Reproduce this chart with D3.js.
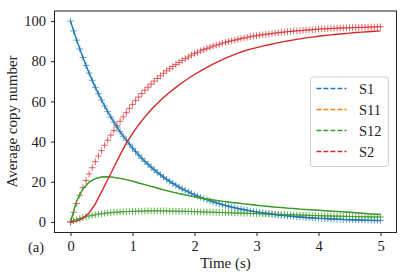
<!DOCTYPE html>
<html>
<head>
<meta charset="utf-8">
<script src="https://cdn.jsdelivr.net/npm/d3@7"></script>
<style>
  html, body { margin: 0; padding: 0; background: #fff; }
  svg { display: block; font-family: "Liberation Serif", "DejaVu Serif", serif; }
</style>
</head>
<body>
<div id="chart"></div>
<script>
// time grids (s)
const tSim = d3.range(0, 101).map(i => i * 0.05);
const tLine = d3.range(0, 51).map(i => i * 0.1);

// simulated averages, drawn as "+" markers (one value every 0.05 s)
const s1Sim = [100, 95.1, 90.5, 86.1, 81.9, 77.9, 74.1, 70.5, 67.0, 63.8, 60.7, 57.7, 54.9, 52.2, 49.7, 47.2, 44.9, 42.7, 40.7, 38.7,
  36.8, 35.0, 33.3, 31.7, 30.1, 28.7, 27.3, 25.9, 24.7, 23.5, 22.3, 21.2, 20.2, 19.2, 18.3, 17.4, 16.5, 15.7, 15.0, 14.2,
  13.5, 12.9, 12.2, 11.6, 11.1, 10.5, 10.0, 9.5, 9.1, 8.6, 8.2, 7.8, 7.4, 7.1, 6.7, 6.4, 6.1, 5.8, 5.5, 5.2,
  5.0, 4.7, 4.5, 4.3, 4.1, 3.9, 3.7, 3.5, 3.3, 3.2, 3.0, 2.9, 2.7, 2.6, 2.5, 2.4, 2.2, 2.1, 2.0, 1.9,
  1.8, 1.7, 1.7, 1.6, 1.5, 1.4, 1.4, 1.3, 1.2, 1.2, 1.1, 1.1, 1.0, 1.0, 0.9, 0.9, 0.8, 0.8, 0.7, 0.7, 0.7];
const s12Sim = [0, 0.6, 1.2, 1.7, 2.2, 2.6, 3.0, 3.3, 3.6, 3.9, 4.1, 4.3, 4.5, 4.6, 4.8, 4.9, 5.0, 5.1, 5.2, 5.2,
  5.3, 5.3, 5.4, 5.4, 5.4, 5.5, 5.5, 5.5, 5.5, 5.5, 5.5, 5.5, 5.4, 5.4, 5.4, 5.3, 5.3, 5.3, 5.2, 5.2,
  5.1, 5.1, 5.0, 5.0, 4.9, 4.9, 4.8, 4.8, 4.7, 4.7, 4.6, 4.6, 4.5, 4.5, 4.4, 4.4, 4.3, 4.3, 4.2, 4.2,
  4.1, 4.1, 4.0, 4.0, 3.9, 3.9, 3.8, 3.8, 3.7, 3.7, 3.6, 3.6, 3.5, 3.5, 3.4, 3.4, 3.3, 3.3, 3.2, 3.2,
  3.1, 3.1, 3.0, 3.0, 3.0, 2.9, 2.9, 2.9, 2.8, 2.8, 2.8, 2.7, 2.7, 2.7, 2.6, 2.6, 2.6, 2.5, 2.5, 2.5, 2.5];
const s11Sim = s12Sim.slice(); // S11 sits exactly under S12 in the picture
const s2Sim = [0, 4.8, 9.2, 13.3, 17.1, 20.6, 23.9, 27.0, 30.0, 32.8, 35.5, 38.2, 40.7, 43.2, 45.5, 47.9, 50.1, 52.3, 54.4, 56.5,
  58.5, 60.4, 62.2, 63.9, 65.6, 67.1, 68.6, 70.1, 71.4, 72.7, 74.0, 75.2, 76.3, 77.4, 78.4, 79.4, 80.4, 81.3, 82.1, 83.0,
  83.8, 84.4, 85.2, 85.8, 86.3, 87.0, 87.5, 88.0, 88.4, 89.0, 89.4, 89.8, 90.2, 90.5, 90.9, 91.3, 91.6, 91.9, 92.2, 92.5,
  92.7, 93.0, 93.2, 93.4, 93.6, 93.8, 94.0, 94.2, 94.4, 94.5, 94.7, 94.8, 95.0, 95.1, 95.2, 95.3, 95.5, 95.6, 95.7, 95.8,
  96.0, 96.1, 96.1, 96.2, 96.3, 96.4, 96.4, 96.5, 96.6, 96.6, 96.7, 96.7, 96.8, 96.8, 96.9, 96.9, 97.0, 97.0, 97.1, 97.1, 97.2];

// deterministic curves, drawn as solid lines (one value every 0.1 s)
const s1Line = [100, 90.5, 81.9, 74.1, 67.0, 60.7, 54.9, 49.7, 44.9, 40.7, 36.8, 33.3, 30.1, 27.3, 24.7, 22.3, 20.2, 18.3, 16.5, 15.0,
  13.5, 12.2, 11.1, 10.0, 9.1, 8.2, 7.4, 6.7, 6.1, 5.5, 5.0, 4.5, 4.1, 3.7, 3.3, 3.0, 2.7, 2.5, 2.2, 2.0,
  1.8, 1.7, 1.5, 1.4, 1.2, 1.1, 1.0, 0.9, 0.8, 0.7, 0.7];
const s12Line = [0, 10.5, 16.5, 19.8, 21.6, 22.4, 22.5, 22.2, 21.7, 21.1, 20.3, 19.4, 18.6, 17.7, 16.9, 16.0, 15.2, 14.5, 13.8, 13.1,
  12.5, 11.9, 11.4, 10.9, 10.5, 10.1, 9.7, 9.4, 9.0, 8.7, 8.3, 8.0, 7.7, 7.4, 7.2, 6.9, 6.7, 6.4, 6.2, 6.0,
  5.8, 5.6, 5.4, 5.2, 5.0, 4.8, 4.6, 4.4, 4.1, 3.9, 3.7];
const s11Line = s12Line.slice();
const s2Line = [0, 0.4, 1.8, 4.5, 9.0, 15.0, 21.0, 27.2, 33.4, 39.2, 44.0, 48.4, 52.3, 55.8, 59.0, 61.9, 64.6, 67.0, 69.3, 71.4,
  73.4, 75.2, 76.9, 78.6, 80.1, 81.5, 82.8, 84.0, 85.1, 86.0, 86.8, 87.5, 88.2, 88.9, 89.5, 90.1, 90.6, 91.1, 91.6, 92.0,
  92.4, 92.8, 93.1, 93.4, 93.7, 94.0, 94.3, 94.5, 94.7, 94.9, 95.1];

const speciesNames = ["S1", "S11", "S12", "S2"];
const speciesColors = ["#1f77b4", "#ff7f0e", "#2ca02c", "#d62728"];
const simSeries = [s1Sim, s11Sim, s12Sim, s2Sim];
const lineSeries = [s1Line, s11Line, s12Line, s2Line];

const xTicks = [0, 1, 2, 3, 4, 5];
const yTicks = [0, 20, 40, 60, 80, 100];

const width = 407, height = 280;
const margin = { top: 11, right: 11, bottom: 48, left: 55 };

const svg = d3.select("#chart").append("svg")
    .attr("width", width)
    .attr("height", height);

const x = d3.scaleLinear().domain([-0.25, 5.25]).range([margin.left, width - margin.right]);
const y = d3.scaleLinear().domain([-5, 105]).range([height - margin.bottom, margin.top]);

// markers first, translucent (S11 is hidden under S12, keep it faint)
simSeries.forEach((vals, k) => {
    const hidden = speciesNames[k] === "S11";
    svg.append("g")
        .attr("stroke", speciesColors[k])
        .attr("stroke-opacity", hidden ? 0.25 : 0.7)
        .attr("stroke-width", hidden ? 0.7 : 1)
        .attr("fill", "none")
        .selectAll("path").data(vals).enter().append("path")
        .attr("transform", (d, i) => `translate(${x(tSim[i])},${y(d)})`)
        .attr("d", "M-3.3,0H3.3M0,-3.3V3.3");
});

// solid curves on top
const line = d3.line()
    .x((d, i) => x(tLine[i]))
    .y(d => y(d));

lineSeries.forEach((vals, k) => {
    const hidden = speciesNames[k] === "S11";
    svg.append("path")
        .datum(vals)
        .attr("d", line)
        .attr("fill", "none")
        .attr("stroke", speciesColors[k])
        .attr("stroke-width", hidden ? 0.8 : 1.4);
});

// axes
const xAxis = svg.append("g")
    .attr("transform", `translate(0,${height - margin.bottom + 0.5})`)
    .call(d3.axisBottom(x).tickValues(xTicks).tickSize(3.5).tickPadding(5).tickFormat(d3.format("d")));
const yAxis = svg.append("g")
    .attr("transform", `translate(${margin.left - 0.5},0)`)
    .call(d3.axisLeft(y).tickValues(yTicks).tickSize(3.5).tickPadding(5).tickFormat(d3.format("d")));

[xAxis, yAxis].forEach(g => {
    g.select(".domain").remove();
    g.selectAll(".tick line").attr("stroke", "#222");
    g.selectAll(".tick text")
        .attr("fill", "#222")
        .style("font-family", "'Liberation Serif', serif")
        .style("font-size", "14.5px");
});

// frame
svg.append("rect")
    .attr("x", margin.left - 0.5)
    .attr("y", margin.top)
    .attr("width", width - margin.left - margin.right + 1)
    .attr("height", height - margin.top - margin.bottom + 0.5)
    .attr("fill", "none")
    .attr("stroke", "#222")
    .attr("stroke-width", 1);

// labels
svg.append("text")
    .attr("x", (margin.left + width - margin.right) / 2)
    .attr("y", 268)
    .attr("text-anchor", "middle")
    .style("font-size", "15px")
    .attr("fill", "#222")
    .text("Time (s)");

svg.append("text")
    .attr("transform", `translate(17,${(margin.top + height - margin.bottom) / 2}) rotate(-90)`)
    .attr("text-anchor", "middle")
    .style("font-size", "15px")
    .attr("fill", "#222")
    .text("Average copy number");

svg.append("text")
    .attr("x", 36)
    .attr("y", 252)
    .attr("text-anchor", "middle")
    .style("font-size", "14.5px")
    .attr("fill", "#222")
    .text("(a)");

// legend
const legend = svg.append("g").attr("transform", "translate(310.5,77)");
legend.append("rect")
    .attr("width", 78)
    .attr("height", 89.5)
    .attr("rx", 2.5)
    .attr("fill", "#fff")
    .attr("fill-opacity", 0.8)
    .attr("stroke", "#d0d0d0");

const items = legend.selectAll("g.item").data(speciesNames).enter().append("g")
    .attr("class", "item")
    .attr("transform", (d, i) => `translate(0,${11.5 + i * 21})`);

items.append("line")
    .attr("x1", 6).attr("x2", 36)
    .attr("stroke", (d, i) => speciesColors[i])
    .attr("stroke-width", 1.3)
    .attr("stroke-dasharray", "4.8,2.2");

items.append("text")
    .attr("x", 48.5)
    .attr("dy", "0.35em")
    .style("font-size", "14.5px")
    .attr("fill", "#222")
    .text(d => d);
</script>
</body>
</html>
